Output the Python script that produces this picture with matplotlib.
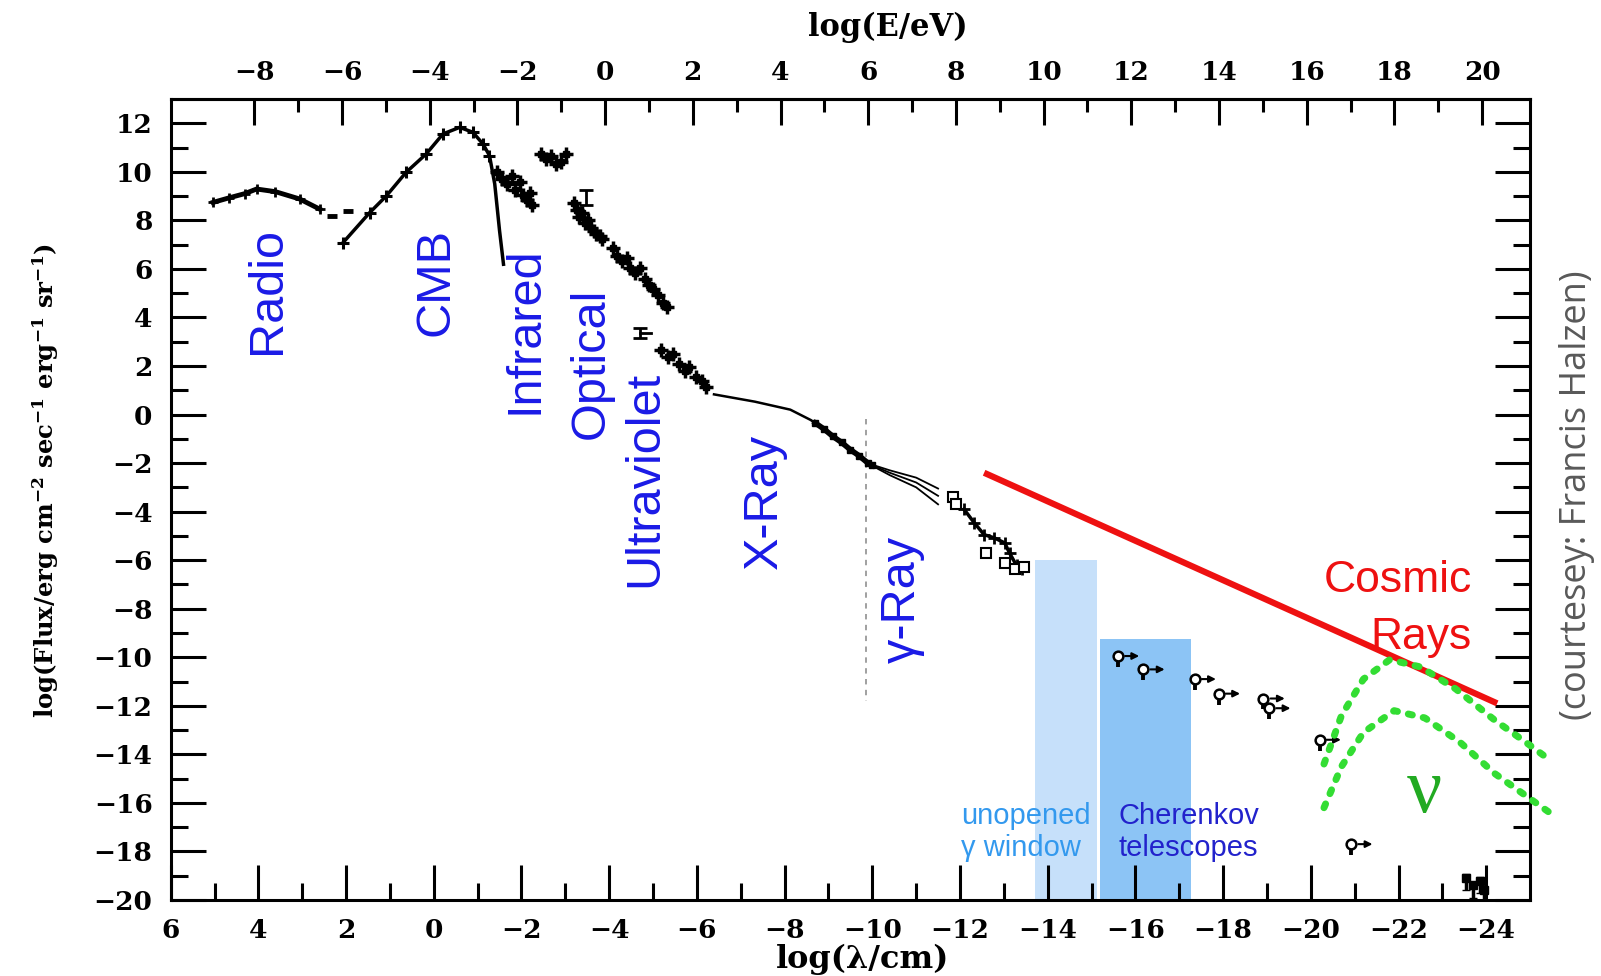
import numpy as np
import matplotlib.pyplot as plt

plt.rcParams['font.family'] = 'DejaVu Serif'
plt.rcParams['font.weight'] = 'bold'
plt.rcParams['mathtext.fontset'] = 'dejavuserif'
plt.rcParams['mathtext.default'] = 'bf'

# x = log(lambda/cm), y = log(flux)
radio_x = [5.03, 4.66, 4.31, 4.04, 3.61, 3.06, 2.60]
radio_y = [8.74, 8.93, 9.10, 9.29, 9.18, 8.88, 8.46]
gap_x0 = [2.44, 2.07]
gap_x1 = [2.21, 1.85]
gap_y = [8.19, 8.40]

cmb_x = [2.07, 1.46, 1.08, 0.63, 0.17, -0.21, -0.59, -0.89, -1.12, -1.27, -1.39, -1.50, -1.59]
cmb_y = [7.08, 8.32, 9.01, 9.98, 10.74, 11.56, 11.83, 11.63, 11.15, 10.67, 9.50, 7.57, 6.19]

ir_x = [-1.44, -1.55, -1.67, -1.79, -1.85, -1.97, -2.04, -2.13, -2.20, -2.25,
        -2.44, -2.55, -2.67, -2.78, -2.90, -3.02]
ir_y = [9.98, 9.69, 9.48, 9.81, 9.27, 9.56, 9.05, 8.84, 9.14, 8.63,
        10.74, 10.53, 10.66, 10.32, 10.40, 10.74]

opt_x = [-3.20, -3.27, -3.32, -3.39, -3.44, -3.51, -3.58, -3.65, -3.71, -3.78, -3.83]
opt_y = [8.72, 8.42, 8.13, 8.30, 7.87, 8.00, 7.70, 7.58, 7.45, 7.37, 7.24]

uv_x = [-4.09, -4.18, -4.30, -4.41, -4.48, -4.60, -4.71, -4.81, -4.90, -4.99, -5.11, -5.23, -5.32]
uv_y = [6.86, 6.52, 6.31, 6.44, 6.02, 5.85, 6.02, 5.59, 5.34, 5.17, 4.92, 4.58, 4.41]

euv_x = [-5.18, -5.34, -5.46, -5.60, -5.74, -5.83, -5.97, -6.11, -6.20]
euv_y = [2.64, 2.39, 2.51, 2.09, 1.80, 1.97, 1.54, 1.38, 1.12]

xray_x = [-6.39, -7.32, -8.13, -8.60, -9.06, -9.53, -9.88]
xray_y = [0.83, 0.53, 0.20, -0.23, -0.86, -1.49, -2.00]
xband_x = [-8.7, -8.9, -9.1, -9.3, -9.5, -9.7, -9.9, -10.0]
xband_y = [-0.35, -0.6, -0.9, -1.15, -1.45, -1.7, -2.0, -2.1]

spread_x = [-9.88, -10.4, -11.0, -11.5]
spread_y1 = [-2.0, -2.3, -2.6, -3.05]
spread_y2 = [-2.0, -2.4, -2.8, -3.35]
spread_y3 = [-2.0, -2.5, -3.0, -3.7]

gam_x = [-12.09, -12.32, -12.55, -12.78, -13.02, -13.13, -13.29, -13.41]
gam_y = [-3.90, -4.45, -4.95, -5.08, -5.29, -5.71, -6.22, -6.35]
sq_x = [-11.85, -11.92, -12.60, -13.02, -13.25, -13.45]
sq_y = [-3.39, -3.69, -5.71, -6.13, -6.35, -6.30]

lim_x = [-15.60, -16.18, -17.35, -17.90, -18.92, -19.05, -20.20, -20.92]
lim_y = [-9.95, -10.50, -10.90, -11.50, -11.70, -12.10, -13.40, -17.70]
top_x = [-23.55, -23.70, -23.85, -23.95]
top_y = [-19.1, -19.4, -19.2, -19.6]

cr_x = [-12.55, -24.25]
cr_y = [-2.4, -11.9]

nu_hi_x = [-20.3, -20.7, -21.2, -21.8, -22.5, -23.3, -24.2, -24.9, -25.5]
nu_hi_y = [-14.4, -12.4, -10.9, -10.1, -10.4, -11.3, -12.6, -13.5, -14.3]
nu_lo_x = [-20.3, -20.7, -21.2, -21.9, -22.6, -23.4, -24.2, -24.9, -25.6]
nu_lo_y = [-16.2, -14.5, -13.1, -12.2, -12.5, -13.5, -14.8, -15.7, -16.6]

gamma_window = (-13.72, -15.12, -6.0)     # x from, x to, top
cherenkov = (-15.20, -17.27, -9.25)

band_names = ['Radio', 'CMB', 'Infrared', 'Optical', 'Ultraviolet', 'X-Ray', '\u03b3-Ray']
band_x = [3.8, -0.06, -2.09, -3.6, -4.81, -7.55, -10.69]
band_y = [5.1, 5.47, 3.48, 2.09, -2.67, -3.6, -7.6]

fig = plt.figure(figsize=(16.01, 9.76), dpi=100)
ax = fig.add_axes([0.1066, 0.0779, 0.8491, 0.8207])
ax.set_xlim(6, -25)
ax.set_ylim(-20, 13)

# shaded windows
ax.fill_between([gamma_window[0], gamma_window[1]], -20, gamma_window[2],
                color='#c6e0fa', lw=0, zorder=1)
ax.fill_between([cherenkov[0], cherenkov[1]], -20, cherenkov[2],
                color='#8cc4f5', lw=0, zorder=1)

# black measurements
k = 'black'
ax.plot(radio_x, radio_y, color=k, lw=3.5, zorder=3)
ax.plot(radio_x, radio_y, '+', color=k, ms=7, mew=2, zorder=3)
ax.hlines(gap_y, gap_x0, gap_x1, color=k, lw=3.5, zorder=3)
ax.plot(cmb_x, cmb_y, color=k, lw=2.5, zorder=3)
ax.plot(cmb_x[:10], cmb_y[:10], '+', color=k, ms=9, mew=2.2, zorder=3)
for xs, ys in [(ir_x, ir_y), (opt_x, opt_y), (uv_x, uv_y), (euv_x, euv_y)]:
    ax.plot(xs, ys, '+', color=k, ms=10, mew=2.5, zorder=3)
    ax.plot(xs, ys, 's', color=k, ms=5, zorder=3)
ax.errorbar(-3.48, 8.95, yerr=[[0.3], [0.32]], fmt='none', ecolor=k, elinewidth=2, capsize=5, capthick=2)
ax.errorbar(-4.71, 3.36, yerr=0.22, fmt='none', ecolor=k, elinewidth=2, capsize=5, capthick=2)
ax.plot([-4.71, -4.95], [3.36, 3.36], color=k, lw=2)
ax.plot(xray_x, xray_y, color=k, lw=1.8, zorder=3)
ax.plot(xband_x, xband_y, 's', color=k, ms=4, zorder=3)
ax.plot(xband_x, xband_y, color=k, lw=4, zorder=3)
for sy in [spread_y1, spread_y2, spread_y3]:
    ax.plot(spread_x, sy, color=k, lw=1.3, zorder=3)
ax.plot(gam_x, gam_y, color=k, lw=2.5, zorder=3)
ax.plot(gam_x, gam_y, '+', color=k, ms=8, mew=2, zorder=3)
ax.plot(sq_x, sq_y, 's', mfc='white', mec=k, ms=7, mew=1.5, zorder=3)
ax.errorbar(lim_x, lim_y, yerr=[[0.45] * len(lim_x), [0] * len(lim_x)], fmt='o',
            mfc='white', mec=k, ms=7, mew=1.8, ecolor=k, elinewidth=2.8, zorder=3)
for lx, ly in zip(lim_x, lim_y):
    ax.annotate('', xy=(lx - 0.55, ly), xytext=(lx - 0.1, ly),
                arrowprops=dict(arrowstyle='-|>', color=k, lw=1.5, mutation_scale=10), zorder=3)
ax.errorbar(top_x, top_y, yerr=[[0.5] * 4, [0.15] * 4], fmt='s', color=k, ms=6,
            elinewidth=2.5, capsize=3, zorder=3)

ax.plot([-9.85, -9.85], [-0.2, -11.8], color='#999999', lw=1.3, ls=(0, (3, 3)), zorder=2)

# cosmic rays and neutrinos
ax.plot(cr_x, cr_y, color='#ee1111', lw=4.5, solid_capstyle='butt', zorder=4)
for xs, ys in [(nu_hi_x, nu_hi_y), (nu_lo_x, nu_lo_y)]:
    ax.plot(xs, ys, color='#33dd33', lw=5, ls=(0, (0.6, 1.6)), dash_capstyle='round',
            clip_on=False, zorder=5)

# labels in the plot
sans = 'Liberation Sans'
for name, bx, by in zip(band_names, band_x, band_y):
    ax.text(bx, by, name, rotation=90, ha='center', va='center', color='#1a1ae6',
            fontsize=35, family=sans, fontweight='normal')
ax.text(-23.67, -6.85, 'Cosmic', ha='right', va='center', color='#ee1111',
        fontsize=32, family=sans, fontweight='normal')
ax.text(-23.67, -9.17, 'Rays', ha='right', va='center', color='#ee1111',
        fontsize=32, family=sans, fontweight='normal')
ax.text(-12.02, -16.55, 'unopened', ha='left', va='center', color='#3399ee',
        fontsize=21, family=sans, fontweight='normal')
ax.text(-12.02, -17.86, '\u03b3 window', ha='left', va='center', color='#3399ee',
        fontsize=21, family=sans, fontweight='normal')
ax.text(-15.62, -16.55, 'Cherenkov', ha='left', va='center', color='#2222cc',
        fontsize=21, family=sans, fontweight='normal')
ax.text(-15.62, -17.86, 'telescopes', ha='left', va='center', color='#2222cc',
        fontsize=21, family=sans, fontweight='normal')
ax.text(-22.6, -15.6, '\u03bd', ha='center', va='center', color='#22aa22',
        fontsize=56, family='Liberation Serif', fontweight='normal')

# axes styling
ax.set_xticks(np.arange(-24, 7, 2))
ax.set_xticks(np.arange(-23, 6, 2), minor=True)
ax.set_yticks(np.arange(-20, 13, 2))
ax.set_yticks(np.arange(-19, 13, 2), minor=True)
ax.tick_params(which='both', direction='in', right=True, top=False, width=2.2,
               labelsize=19, pad=13)
ax.tick_params(which='major', length=25)
ax.tick_params(which='minor', length=12)
for s in ax.spines.values():
    s.set_linewidth(2.2)

secax = ax.secondary_xaxis('top', functions=(lambda l: -3.907 - l, lambda e: -3.907 - e))
secax.set_xticks(np.arange(-8, 21, 2))
secax.set_xticks(np.arange(-7, 21, 2), minor=True)
secax.tick_params(which='both', direction='in', width=2.2, labelsize=19, pad=10)
secax.tick_params(which='major', length=19)
secax.tick_params(which='minor', length=9)
secax.spines['top'].set_linewidth(2.2)

fig.text(0.5547, 0.972, 'log(E/eV)', ha='center', va='center', fontsize=22)
fig.text(0.5389, 0.0167, 'log(\u03bb/cm)', ha='center', va='center', fontsize=23)
fig.text(0.0287, 0.508,
         'log(Flux/erg cm$^{-2}$ sec$^{-1}$ erg$^{-1}$ sr$^{-1}$)',
         rotation=90, ha='center', va='center', fontsize=17.5)
fig.text(0.9853, 0.493, '(courtesey: Francis Halzen)', rotation=90, ha='center',
         va='center', color='#595959', fontsize=26, family='Open Sans',
         fontweight='normal')

fig.savefig('out.png', dpi=100)
